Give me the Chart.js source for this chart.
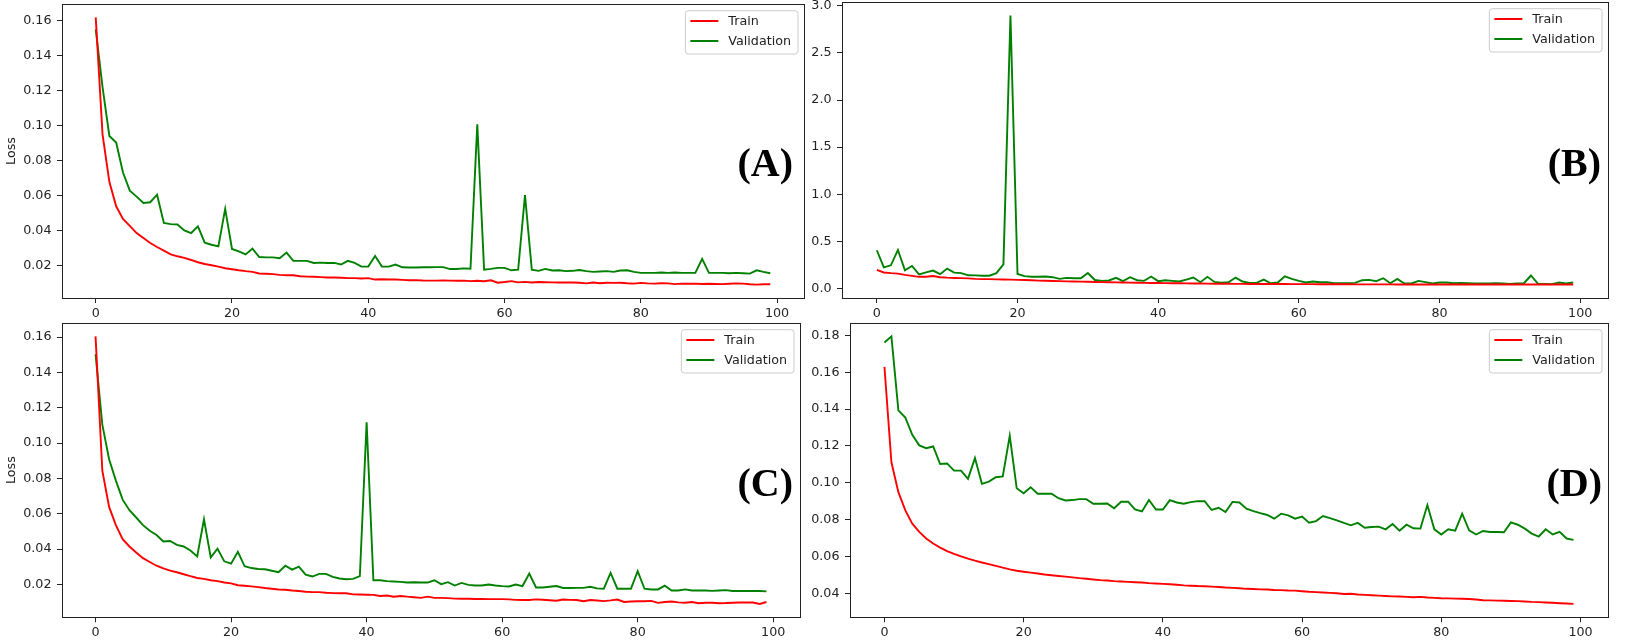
<!DOCTYPE html>
<html>
<head>
<meta charset="utf-8">
<script src="https://cdn.jsdelivr.net/npm/chart.js@4.4.1/dist/chart.umd.min.js"></script>
<style>
  body { margin: 0; background: #fff; width: 1629px; height: 640px; position: relative; overflow: hidden; }
  .panel { position: absolute; }
</style>
</head>
<body>
<div class="panel" style="left:0;top:0"><canvas id="chartA" width="808" height="318"></canvas></div>
<div class="panel" style="left:808px;top:0"><canvas id="chartB" width="821" height="318"></canvas></div>
<div class="panel" style="left:0;top:318px"><canvas id="chartC" width="808" height="322"></canvas></div>
<div class="panel" style="left:808px;top:318px"><canvas id="chartD" width="821" height="322"></canvas></div>
<script>
// epochs 0..99
const epochs = Array.from({ length: 100 }, (_, i) => i);
const xTicks = [0, 20, 40, 60, 80, 100];

const trainA = [
  0.1619, 0.0950, 0.0679, 0.0539, 0.0467, 0.0427, 0.0386, 0.0357, 0.0329, 0.0306,
  0.0285, 0.0264, 0.0253, 0.0244, 0.0232, 0.0219, 0.0209, 0.0202, 0.0194, 0.0185,
  0.0179, 0.0173, 0.0168, 0.0164, 0.0155, 0.0153, 0.0151, 0.0147, 0.0145, 0.0145,
  0.0139, 0.0137, 0.0136, 0.0134, 0.0132, 0.0132, 0.0130, 0.0128, 0.0128, 0.0126,
  0.0128, 0.0120, 0.0122, 0.0120, 0.0120, 0.0118, 0.0116, 0.0117, 0.0115, 0.0114,
  0.0114, 0.0115, 0.0114, 0.0113, 0.0114, 0.0111, 0.0113, 0.0110, 0.0116, 0.0102,
  0.0106, 0.0111, 0.0104, 0.0107, 0.0103, 0.0106, 0.0105, 0.0104, 0.0103, 0.0104,
  0.0103, 0.0102, 0.0098, 0.0103, 0.0099, 0.0102, 0.0101, 0.0102, 0.0099, 0.0097,
  0.0101, 0.0098, 0.0097, 0.0099, 0.0098, 0.0094, 0.0097, 0.0096, 0.0097, 0.0095,
  0.0096, 0.0095, 0.0094, 0.0096, 0.0098, 0.0097, 0.0093, 0.0091, 0.0093, 0.0093
];
const valA = [
  0.1550, 0.1220, 0.0941, 0.0903, 0.0732, 0.0628, 0.0594, 0.0558, 0.0562, 0.0605,
  0.0444, 0.0437, 0.0435, 0.0401, 0.0386, 0.0424, 0.0331, 0.0319, 0.0310, 0.0524,
  0.0295, 0.0281, 0.0264, 0.0297, 0.0249, 0.0247, 0.0247, 0.0242, 0.0274, 0.0227,
  0.0227, 0.0227, 0.0215, 0.0217, 0.0215, 0.0215, 0.0206, 0.0227, 0.0215, 0.0194,
  0.0194, 0.0255, 0.0194, 0.0194, 0.0206, 0.0190, 0.0189, 0.0189, 0.0190, 0.0190,
  0.0191, 0.0191, 0.0180, 0.0180, 0.0184, 0.0182, 0.1007, 0.0177, 0.0181, 0.0187,
  0.0187, 0.0173, 0.0177, 0.0603, 0.0177, 0.0170, 0.0181, 0.0172, 0.0173, 0.0168,
  0.0170, 0.0175, 0.0168, 0.0164, 0.0166, 0.0168, 0.0164, 0.0172, 0.0173, 0.0164,
  0.0158, 0.0158, 0.0158, 0.0160, 0.0158, 0.0160, 0.0158, 0.0158, 0.0158, 0.0238,
  0.0158, 0.0158, 0.0158, 0.0156, 0.0158, 0.0156, 0.0154, 0.0173, 0.0164, 0.0156
];

const trainB = [
  0.198, 0.170, 0.163, 0.158, 0.145, 0.134, 0.124, 0.125, 0.132, 0.120,
  0.115, 0.112, 0.110, 0.108, 0.102, 0.100, 0.099, 0.097, 0.095, 0.094,
  0.092, 0.090, 0.087, 0.084, 0.082, 0.080, 0.078, 0.076, 0.074, 0.073,
  0.071, 0.069, 0.068, 0.066, 0.065, 0.064, 0.062, 0.061, 0.060, 0.059,
  0.058, 0.057, 0.056, 0.055, 0.054, 0.053, 0.053, 0.052, 0.051, 0.050,
  0.050, 0.049, 0.049, 0.048, 0.048, 0.048, 0.047, 0.047, 0.047, 0.046,
  0.046, 0.046, 0.046, 0.045, 0.045, 0.045, 0.045, 0.045, 0.044, 0.044,
  0.044, 0.044, 0.044, 0.044, 0.043, 0.043, 0.043, 0.043, 0.043, 0.043,
  0.043, 0.043, 0.043, 0.043, 0.042, 0.042, 0.042, 0.042, 0.042, 0.042,
  0.042, 0.042, 0.042, 0.042, 0.042, 0.042, 0.042, 0.042, 0.042, 0.042
];
const valB = [
  0.406, 0.225, 0.246, 0.409, 0.192, 0.240, 0.150, 0.172, 0.190, 0.152,
  0.211, 0.169, 0.163, 0.140, 0.139, 0.136, 0.136, 0.163, 0.256, 2.898,
  0.154, 0.131, 0.124, 0.124, 0.127, 0.120, 0.102, 0.113, 0.109, 0.109,
  0.165, 0.090, 0.081, 0.085, 0.113, 0.078, 0.120, 0.088, 0.081, 0.127,
  0.078, 0.088, 0.081, 0.074, 0.095, 0.116, 0.067, 0.124, 0.070, 0.062,
  0.066, 0.116, 0.074, 0.060, 0.060, 0.095, 0.056, 0.064, 0.130, 0.102,
  0.081, 0.064, 0.074, 0.067, 0.067, 0.056, 0.056, 0.056, 0.060, 0.088,
  0.092, 0.078, 0.109, 0.056, 0.102, 0.053, 0.053, 0.081, 0.067, 0.053,
  0.064, 0.064, 0.056, 0.060, 0.056, 0.053, 0.053, 0.053, 0.056, 0.053,
  0.049, 0.053, 0.056, 0.138, 0.049, 0.049, 0.046, 0.064, 0.053, 0.064
];

const trainC = [
  0.1604, 0.0844, 0.0639, 0.0536, 0.0456, 0.0415, 0.0381, 0.0349, 0.0327, 0.0306,
  0.0291, 0.0278, 0.0269, 0.0258, 0.0247, 0.0237, 0.0232, 0.0224, 0.0219, 0.0211,
  0.0206, 0.0196, 0.0193, 0.0189, 0.0185, 0.0180, 0.0176, 0.0172, 0.0170, 0.0166,
  0.0163, 0.0159, 0.0157, 0.0157, 0.0153, 0.0151, 0.0150, 0.0150, 0.0144, 0.0143,
  0.0142, 0.0141, 0.0135, 0.0138, 0.0131, 0.0135, 0.0131, 0.0128, 0.0124, 0.0131,
  0.0124, 0.0124, 0.0123, 0.0120, 0.0119, 0.0119, 0.0118, 0.0118, 0.0117, 0.0117,
  0.0117, 0.0116, 0.0113, 0.0112, 0.0112, 0.0116, 0.0114, 0.0111, 0.0108, 0.0115,
  0.0113, 0.0112, 0.0105, 0.0112, 0.0109, 0.0106, 0.0110, 0.0115, 0.0101, 0.0104,
  0.0105, 0.0105, 0.0107, 0.0096, 0.0101, 0.0104, 0.0099, 0.0097, 0.0101, 0.0094,
  0.0097, 0.0097, 0.0094, 0.0095, 0.0097, 0.0098, 0.0099, 0.0098, 0.0090, 0.0101
];
const valC = [
  0.1503, 0.1105, 0.0909, 0.0788, 0.0680, 0.0620, 0.0579, 0.0536, 0.0504, 0.0480,
  0.0443, 0.0446, 0.0424, 0.0415, 0.0392, 0.0359, 0.0568, 0.0353, 0.0402, 0.0331,
  0.0318, 0.0385, 0.0303, 0.0293, 0.0288, 0.0286, 0.0278, 0.0269, 0.0306, 0.0284,
  0.0301, 0.0256, 0.0245, 0.0260, 0.0260, 0.0243, 0.0234, 0.0230, 0.0232, 0.0247,
  0.1118, 0.0224, 0.0224, 0.0219, 0.0217, 0.0215, 0.0211, 0.0213, 0.0211, 0.0211,
  0.0224, 0.0202, 0.0213, 0.0194, 0.0209, 0.0198, 0.0194, 0.0194, 0.0200, 0.0194,
  0.0191, 0.0189, 0.0200, 0.0191, 0.0262, 0.0183, 0.0183, 0.0187, 0.0191, 0.0180,
  0.0180, 0.0181, 0.0181, 0.0187, 0.0178, 0.0176, 0.0265, 0.0176, 0.0176, 0.0176,
  0.0275, 0.0176, 0.0172, 0.0172, 0.0193, 0.0166, 0.0166, 0.0172, 0.0166, 0.0166,
  0.0166, 0.0164, 0.0166, 0.0168, 0.0163, 0.0163, 0.0164, 0.0163, 0.0163, 0.0161
];

const trainD = [
  0.1629, 0.1111, 0.0949, 0.0850, 0.0778, 0.0733, 0.0697, 0.0670, 0.0648, 0.0629,
  0.0614, 0.0600, 0.0588, 0.0577, 0.0567, 0.0558, 0.0549, 0.0539, 0.0530, 0.0522,
  0.0517, 0.0512, 0.0507, 0.0502, 0.0498, 0.0494, 0.0490, 0.0486, 0.0482, 0.0479,
  0.0475, 0.0471, 0.0469, 0.0466, 0.0464, 0.0462, 0.0460, 0.0458, 0.0455, 0.0453,
  0.0451, 0.0449, 0.0446, 0.0443, 0.0441, 0.0439, 0.0438, 0.0436, 0.0434, 0.0431,
  0.0429, 0.0427, 0.0424, 0.0423, 0.0421, 0.0420, 0.0418, 0.0417, 0.0415, 0.0414,
  0.0411, 0.0408, 0.0406, 0.0404, 0.0402, 0.0400, 0.0396, 0.0397, 0.0393, 0.0391,
  0.0389, 0.0387, 0.0385, 0.0383, 0.0382, 0.0380, 0.0378, 0.0380, 0.0377, 0.0375,
  0.0373, 0.0372, 0.0371, 0.0370, 0.0369, 0.0366, 0.0362, 0.0361, 0.0360, 0.0359,
  0.0358, 0.0357, 0.0355, 0.0353, 0.0352, 0.0350, 0.0348, 0.0346, 0.0344, 0.0342
];
const valD = [
  0.1762, 0.1795, 0.1393, 0.1354, 0.1260, 0.1203, 0.1188, 0.1197, 0.1102, 0.1105,
  0.1066, 0.1066, 0.1021, 0.1134, 0.0994, 0.1006, 0.1030, 0.1035, 0.1255, 0.0970,
  0.0943, 0.0976, 0.0940, 0.0940, 0.0940, 0.0916, 0.0904, 0.0906, 0.0911, 0.0911,
  0.0886, 0.0886, 0.0887, 0.0862, 0.0897, 0.0897, 0.0855, 0.0844, 0.0907, 0.0855,
  0.0855, 0.0906, 0.0893, 0.0886, 0.0895, 0.0900, 0.0900, 0.0852, 0.0864, 0.0841,
  0.0896, 0.0893, 0.0859, 0.0846, 0.0835, 0.0825, 0.0805, 0.0832, 0.0823, 0.0805,
  0.0816, 0.0783, 0.0792, 0.0819, 0.0808, 0.0796, 0.0782, 0.0769, 0.0782, 0.0756,
  0.0760, 0.0762, 0.0747, 0.0776, 0.0740, 0.0772, 0.0753, 0.0751, 0.0879, 0.0747,
  0.0719, 0.0747, 0.0740, 0.0832, 0.0742, 0.0719, 0.0738, 0.0733, 0.0733, 0.0731,
  0.0785, 0.0772, 0.0751, 0.0724, 0.0708, 0.0747, 0.0719, 0.0733, 0.0697, 0.0690
];

const yTicksSmall = [0.02, 0.04, 0.06, 0.08, 0.10, 0.12, 0.14, 0.16];
const yTicksB = [0.0, 0.5, 1.0, 1.5, 2.0, 2.5, 3.0];
const yTicksD = [0.04, 0.06, 0.08, 0.10, 0.12, 0.14, 0.16, 0.18];

const FONT = "'DejaVu Sans', 'Liberation Sans', sans-serif";
const INK = "#222";

// box round the plot, like matplotlib spines
const framePlugin = {
  id: "frame",
  afterDatasetsDraw(chart) {
    const { ctx, chartArea: a } = chart;
    ctx.save();
    ctx.strokeStyle = INK;
    ctx.lineWidth = 1;
    ctx.strokeRect(Math.round(a.left) + 0.5, Math.round(a.top) + 0.5,
      Math.round(a.right - a.left), Math.round(a.bottom - a.top));
    ctx.restore();
  },
};

// legend inside the upper right corner + panel letter
const cornerPlugin = {
  id: "corner",
  afterDraw(chart, args, opts) {
    const { ctx, chartArea: a } = chart;
    ctx.save();
    ctx.font = `12.7px ${FONT}`;
    const labels = chart.data.datasets.map((d) => d.label);
    const textW = Math.max(...labels.map((t) => ctx.measureText(t).width));
    const w = 43 + textW + 7;
    const h = 43.3;
    const x0 = a.right - 6 - w;
    const y0 = a.top + 6.7;
    ctx.beginPath();
    ctx.roundRect(x0, y0, w, h, 3);
    ctx.fillStyle = "rgba(255,255,255,0.8)";
    ctx.fill();
    ctx.strokeStyle = "#cccccc";
    ctx.lineWidth = 1;
    ctx.stroke();
    chart.data.datasets.forEach((d, i) => {
      const y = y0 + 10.3 + i * 20;
      ctx.beginPath();
      ctx.moveTo(x0 + 5, y);
      ctx.lineTo(x0 + 33, y);
      ctx.strokeStyle = d.borderColor;
      ctx.lineWidth = 2;
      ctx.stroke();
      ctx.fillStyle = INK;
      ctx.textBaseline = "middle";
      ctx.textAlign = "left";
      ctx.fillText(d.label, x0 + 43, y + 0.5);
    });

    ctx.font = `bold 40px 'Liberation Serif', 'Times New Roman', serif`;
    ctx.fillStyle = "#000";
    ctx.textAlign = "right";
    ctx.textBaseline = "alphabetic";
    ctx.fillText(opts.letter, a.right - opts.letterRight, a.top + opts.letterDown);
    ctx.restore();
  },
};

function bounds(train, val) {
  const all = train.concat(val);
  const lo = Math.min(...all);
  const hi = Math.max(...all);
  const m = (hi - lo) * 0.05;
  return [lo - m, hi + m];
}

function makePanel(id, train, val, cfg) {
  const ctx = document.getElementById(id).getContext("2d");
  const [ymin, ymax] = bounds(train, val);

  return new Chart(ctx, {
    type: "line",
    data: {
      labels: epochs,
      datasets: [
        { label: "Train", data: train, borderColor: "#ff0000" },
        { label: "Validation", data: val, borderColor: "#008000" },
      ],
    },
    options: {
      responsive: false,
      animation: false,
      parsing: { xAxisKey: undefined },
      layout: { padding: cfg.padding },
      elements: {
        point: { radius: 0 },
        line: { borderWidth: 1.9, tension: 0, fill: false },
      },
      plugins: {
        legend: { display: false },
        tooltip: { enabled: false },
        corner: { letter: cfg.letter, letterRight: cfg.letterRight, letterDown: cfg.letterDown },
      },
      scales: {
        x: {
          type: "linear",
          min: -4.95,
          max: 103.95,
          afterBuildTicks: (s) => { s.ticks = xTicks.map((v) => ({ value: v })); },
          afterFit: (s) => {
            s.height = cfg.xHeight;
            s.paddingLeft = 0;
            s.paddingRight = 0;
          },
          grid: { drawOnChartArea: false, drawTicks: true, tickLength: 5, color: INK },
          border: { display: false },
          ticks: {
            maxRotation: 0,
            padding: 3,
            color: INK,
            font: { family: FONT, size: 12.7 },
            callback: (v) => String(v),
          },
        },
        y: {
          min: ymin,
          max: ymax,
          afterBuildTicks: (s) => { s.ticks = cfg.yTicks.map((v) => ({ value: v })); },
          afterFit: (s) => {
            s.width = cfg.yWidth;
            s.paddingTop = 0;
            s.paddingBottom = 0;
          },
          grid: { drawOnChartArea: false, drawTicks: true, tickLength: 5, color: INK },
          border: { display: false },
          title: {
            display: cfg.showTitle,
            text: "Loss",
            color: INK,
            font: { family: FONT, size: 12.7 },
          },
          ticks: {
            padding: 5.5,
            color: INK,
            font: { family: FONT, size: 12.7 },
            callback: (v) => v.toFixed(cfg.decimals),
          },
        },
      },
    },
    plugins: [framePlugin, cornerPlugin],
  });
}

makePanel("chartA", trainA, valA, {
  letter: "(A)", letterRight: 11, letterDown: 172,
  padding: { left: 0, top: 4, right: 4, bottom: 0 },
  xHeight: 20, yWidth: 62, yTicks: yTicksSmall, decimals: 2, showTitle: true,
});

makePanel("chartB", trainB, valB, {
  letter: "(B)", letterRight: 7, letterDown: 174,
  padding: { left: 0, top: 2, right: 21, bottom: 0 },
  xHeight: 20, yWidth: 34, yTicks: yTicksB, decimals: 1, showTitle: false,
});

makePanel("chartC", trainC, valC, {
  letter: "(C)", letterRight: 7, letterDown: 173,
  padding: { left: 0, top: 5, right: 8, bottom: 0 },
  xHeight: 22.7, yWidth: 62, yTicks: yTicksSmall, decimals: 2, showTitle: true,
});

makePanel("chartD", trainD, valD, {
  letter: "(D)", letterRight: 6, letterDown: 173,
  padding: { left: 0, top: 5, right: 21, bottom: 0 },
  xHeight: 22.7, yWidth: 42, yTicks: yTicksD, decimals: 2, showTitle: false,
});
</script>
</body>
</html>
